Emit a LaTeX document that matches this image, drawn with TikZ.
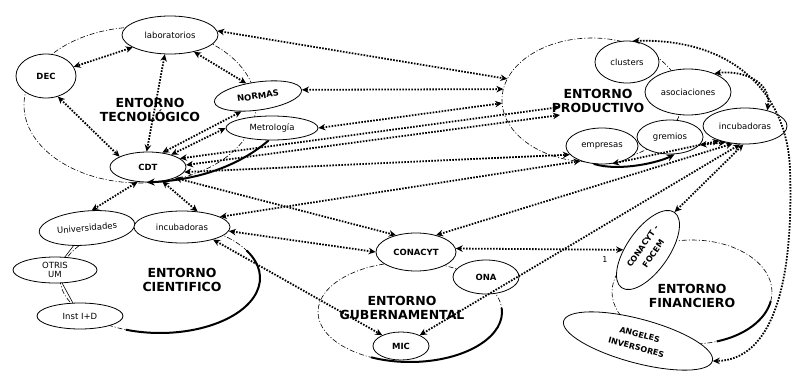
\documentclass[tikz,border=0pt]{standalone}
\usepackage{fontspec}
\setmainfont{DejaVu Sans}
\usetikzlibrary{shapes.geometric,arrows.meta,calc}
\tikzset{
 env/.style={ellipse, draw, line width=0.6pt, dash pattern=on 5pt off 2pt on 1pt off 2pt, inner sep=0pt, outer sep=0pt},
 unit/.style={ellipse, draw, fill=white, line width=0.8pt, inner sep=0pt, align=center, font=\fontsize{8.5}{9.5}\selectfont},
 unitb/.style={unit, font=\fontsize{8.5}{9.5}\selectfont\bfseries},
 unitr/.style={unit, font=\fontsize{8}{13}\selectfont\bfseries},
 envlabel/.style={font=\fontsize{12.5}{13.5}\selectfont\bfseries, align=center},
 link/.style={line width=1.8pt, dash pattern=on 1.6pt off 1.4pt, {Stealth[length=7pt,width=6.5pt]}-{Stealth[length=7pt,width=6.5pt]}},
 solidarrow/.style={line width=2pt, -{Stealth[length=8pt,width=7pt]}},
 thinlink/.style={line width=0.6pt},
 thickarc/.style={line width=2pt},
}
\begin{document}
\begin{tikzpicture}[x=1pt,y=-1pt]
\useasboundingbox (0,0) rectangle (801,383);
\fill[white] (0,0) rectangle (801,383);

% ---------- environments ----------
\node[env, minimum width=232pt, minimum height=156pt] (tecenv) at (140,105) {};
\node[env, minimum width=180pt, minimum height=124pt] (prodenv) at (592,100) {};
\node[env, minimum width=200pt, minimum height=110pt] (scienv) at (160,278) {};
\node[env, minimum width=184pt, minimum height=100pt] (govenv) at (410,312) {};
\node[env, minimum width=160pt, minimum height=104pt] (finenv) at (692,292) {};

\draw[thickarc] (scienv.center) ++(-30:100 and 55) arc[start angle=-30, end angle=110, x radius=100, y radius=55];
\draw[thickarc] (govenv.center) ++(-5:92 and 50) arc[start angle=-5, end angle=115, x radius=92, y radius=50];
\draw[thickarc] (finenv.center) ++(10:80 and 52) arc[start angle=10, end angle=72, x radius=80, y radius=52];

% ---------- environment labels ----------
\node[envlabel] (teclabel) at (150,110) {ENTORNO\\TECNOLÓGICO};
\node[envlabel] (prodlabel) at (598,101) {ENTORNO\\PRODUCTIVO};
\node[envlabel] (scilabel) at (182,280) {ENTORNO\\CIENTIFICO};
\node[envlabel] (govlabel) at (402,308) {ENTORNO\\GUBERNAMENTAL};
\node[envlabel] (finlabel) at (692,296) {ENTORNO\\FINANCIERO};

% ---------- technological ----------
\node[unit, minimum width=96pt, minimum height=38pt] (lab) at (170,35) {laboratorios};
\node[unitb, minimum width=60pt, minimum height=44pt] (dec) at (46,76) {DEC};
\node[unitb, minimum width=88pt, minimum height=28pt, rotate=8] (normas) at (258,96) {NORMAS};
\node[unit, minimum width=92pt, minimum height=24pt] (metro) at (272,128) {Metrología};
\node[unitb, minimum width=76pt, minimum height=30pt] (cdt) at (148,167) {CDT};

% ---------- productive ----------
\node[unit, minimum width=64pt, minimum height=42pt] (clusters) at (627,62) {clusters};
\node[unit, minimum width=86pt, minimum height=46pt] (asoc) at (688,92) {asociaciones};
\node[unit, minimum width=84pt, minimum height=36pt] (incp) at (745,126) {incubadoras};
\node[unit, minimum width=66pt, minimum height=34pt] (gremios) at (670,137) {gremios};
\node[unit, minimum width=72pt, minimum height=36pt] (empresas) at (602,146) {empresas};

% ---------- scientific ----------
\node[unit, minimum width=96pt, minimum height=34pt, rotate=5] (univ) at (87,228) {Universidades};
\node[unit, minimum width=96pt, minimum height=32pt] (incs) at (182,227) {incubadoras};
\node[unit, minimum width=84pt, minimum height=26pt] (otris) at (55,270) {OTRIS\\UM};
\node[unit, minimum width=86pt, minimum height=26pt] (inst) at (80,316) {Inst I+D};

% ---------- governmental ----------
\node[unitb, minimum width=80pt, minimum height=38pt] (conacyt) at (416,252) {CONACYT};
\node[unitb, minimum width=66pt, minimum height=34pt] (ona) at (486,277) {ONA};
\node[unitb, minimum width=56pt, minimum height=28pt] (mic) at (401,346) {MIC};

% ---------- financial ----------
\node[unitr, minimum width=92pt, minimum height=42pt, rotate=55] (focem) at (648,250) {CONACYT -\\FOCEM};
\node[unitr, minimum width=154pt, minimum height=44pt, rotate=-15] (angeles) at (638,341) {ANGELES\\INVERSORES};
\node[font=\fontsize{8}{9}\selectfont] (one) at (605,260) {1};

% ---------- thin links ----------
\draw[thinlink] (univ) -- (otris);
\draw[thinlink] (otris) -- (inst);

% ---------- free ends ----------
\coordinate (pa) at (560,107);
\coordinate (pb) at (560,115);

% ---------- dotted links ----------
\draw[link] (lab) -- (dec);
\draw[link] (lab.255) -- (cdt.95);
\draw[link] (lab.-35) -- (normas.125);
\draw[link] (dec.-60) -- (cdt.160);
\draw[link] (normas.215) -- (cdt.45);
\draw[link] (metro.180) -- (cdt.28);
\draw[link] (lab.5) -- (prodenv.166);
\draw[link] (normas.east) -- (prodenv.173);
\draw[link] (metro.east) -- (prodenv.182);
\draw[link] (cdt.15) -- (pa);
\draw[link] (cdt.3) -- (pb);
\draw[link] (cdt.-8) -- (empresas.195);
\draw[link] (cdt.-125) -- (univ.70);
\draw[link] (cdt.-45) -- (incs.45);
\draw[link] (cdt.-22) -- (conacyt.140);
\draw[link] (incs.15) -- (empresas.-145);
\draw[link] (incs.-5) -- (conacyt.west);
\draw[link] (incs.-22) -- (mic.150);
\draw[link] (conacyt.40) -- (incp.-125);
\draw[link] (conacyt.5) -- (focem);
\draw[link] (mic.30) -- (incp.-105);
\draw[link] (focem.east) -- (incp.-95);
\draw[link] (empresas.-60) -- (incp.-150);
\draw[link] (gremios.-15) -- (incp.-140);
\draw[link] (clusters.75) .. controls (740,38) and (788,100) .. (790,170) .. controls (794,290) and (770,360) .. (angeles.east);
\draw[link] (asoc.35) .. controls (740,70) and (772,80) .. (incp.35);

% ---------- solid arrows ----------
\draw[solidarrow] (metro.-105) .. controls (240,165) and (200,180) .. (cdt.-95);
\draw[solidarrow] (empresas.-115) .. controls (620,172) and (660,162) .. (gremios.-75);
\end{tikzpicture}
\end{document}
